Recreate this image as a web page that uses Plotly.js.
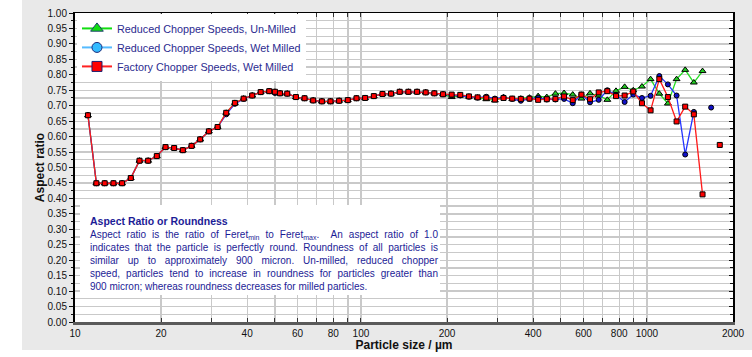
<!DOCTYPE html>
<html>
<head>
<meta charset="utf-8">
<script src="https://cdn.plot.ly/plotly-3.0.1.min.js"></script>
<style>
html,body{margin:0;padding:0;background:#fff;}
#chart{width:752px;height:357px;}
</style>
</head>
<body>
<div id="chart"></div>
<script>
// Particle size (µm)
const particleSize = [11.10, 11.88, 12.70, 13.63, 14.61, 15.67, 16.81, 18.02, 19.32, 20.73,
  22.22, 23.83, 25.56, 27.40, 29.39, 31.52, 33.79, 36.24, 38.88, 41.66,
  44.59, 47.78, 50.03, 52.09, 55.25, 59.23, 63.50, 68.08, 72.99, 78.25,
  83.89, 89.94, 96.46, 103.4, 110.9, 118.9, 127.4, 136.6, 146.5, 157.1,
  168.4, 180.6, 193.6, 207.6, 222.5, 238.6, 255.8, 274.3, 294.0, 315.2,
  338.0, 362.3, 388.4, 416.5, 446.5, 478.7, 513.2, 550.3, 590.1, 632.5,
  678.2, 727.1, 779.6, 835.7, 896.0, 960.9, 1030, 1105, 1184, 1270,
  1361, 1459, 1565, 1677, 1798];

// Factory Chopper Speeds, Wet Milled
const factoryWetMilled = [0.669, 0.449, 0.449, 0.449, 0.449, 0.466, 0.522, 0.522, 0.537, 0.566,
  0.563, 0.556, 0.570, 0.591, 0.617, 0.631, 0.677, 0.709, 0.723, 0.733,
  0.744, 0.747, 0.745, 0.740, 0.739, 0.728, 0.724, 0.717, 0.714, 0.714,
  0.716, 0.718, 0.724, 0.725, 0.731, 0.738, 0.739, 0.745, 0.745, 0.745,
  0.743, 0.740, 0.737, 0.736, 0.735, 0.730, 0.727, 0.726, 0.720, 0.725,
  0.723, 0.722, 0.723, 0.719, 0.721, 0.722, 0.730, 0.718, 0.736, 0.721,
  0.743, 0.747, 0.731, 0.733, 0.746, 0.708, 0.685, 0.786, 0.728, 0.649,
  0.697, 0.672, 0.413, null, 0.573];

// Reduced Chopper Speeds, Wet Milled
const reducedWetMilled = [0.669, 0.449, 0.449, 0.449, 0.449, 0.466, 0.522, 0.522, 0.537, 0.566,
  0.563, 0.556, 0.570, 0.591, 0.617, 0.631, 0.672, 0.706, 0.722, 0.733,
  0.744, 0.747, 0.741, 0.740, 0.739, 0.728, 0.724, 0.717, 0.714, 0.714,
  0.716, 0.718, 0.724, 0.725, 0.731, 0.738, 0.739, 0.745, 0.745, 0.745,
  0.743, 0.740, 0.737, 0.734, 0.733, 0.729, 0.726, 0.729, 0.723, 0.727,
  0.722, 0.716, 0.722, 0.726, 0.720, 0.720, 0.722, 0.708, 0.736, 0.711,
  0.719, 0.750, 0.735, 0.712, 0.736, 0.725, 0.732, 0.796, 0.769, 0.733,
  0.542, 0.680, null, 0.694, null];

// Reduced Chopper Speeds, Un-Milled
const reducedUnMilled = [0.669, 0.449, 0.449, 0.449, 0.449, 0.466, 0.522, 0.522, 0.537, 0.566,
  0.563, 0.556, 0.570, 0.591, 0.617, 0.631, 0.677, 0.709, 0.723, 0.733,
  0.744, 0.747, 0.745, 0.740, 0.739, 0.728, 0.724, 0.717, 0.714, 0.714,
  0.716, 0.718, 0.724, 0.725, 0.731, 0.738, 0.739, 0.745, 0.745, 0.745,
  0.743, 0.740, 0.737, 0.728, 0.733, 0.729, 0.726, 0.721, 0.717, 0.727,
  0.722, 0.723, 0.726, 0.731, 0.728, 0.739, 0.741, 0.736, 0.723, 0.740,
  0.733, 0.719, 0.748, 0.761, 0.750, 0.762, 0.786, 0.739, 0.707, 0.786,
  0.816, 0.775, 0.812, null, null];

const seriesNames = ['Reduced Chopper Speeds, Un-Milled', 'Reduced Chopper Speeds, Wet Milled', 'Factory Chopper Speeds, Wet Milled'];

// labelled x ticks and unlabelled (minor) x ticks / grid lines
const xTickVals = [10, 20, 40, 60, 80, 100, 200, 400, 600, 800, 1000, 2000];
const xTickText = ['10', '20', '40', '60', '80', '100', '200', '400', '600', '800', '1000', '2000'];
const xMinorVals = [30, 50, 70, 90, 300, 500, 700, 900];

const noteTitle = 'Aspect Ratio or Roundness';
const noteLines = [
  'Aspect ratio is the ratio of Feret<sub>min</sub> to Feret<sub>max</sub>.\u00a0 An aspect ratio of 1.0',
  'indicates that the particle is perfectly round. Roundness of all particles is',
  'similar up to approximately 900 micron. Un-milled, reduced chopper',
  'speed, particles tend to increase in roundness for particles greater than',
  '900 micron; whereas roundness decreases for milled particles.'
];

const FONT = 'Liberation Sans, Arial, Helvetica, sans-serif';
const GRID = '#c9c9c9';

const traces = [
  {x: particleSize, y: reducedUnMilled, name: seriesNames[0], type: 'scatter', mode: 'lines+markers', showlegend: false,
   line: {color: '#22dd22', width: 1.3}, marker: {symbol: 'triangle-up', size: 6, color: '#22cc22', line: {color: '#000', width: 1}}},
  {x: particleSize, y: reducedWetMilled, name: seriesNames[1], type: 'scatter', mode: 'lines+markers', showlegend: false,
   line: {color: '#2233ff', width: 1.3}, marker: {symbol: 'circle', size: 5, color: '#1010c8', line: {color: '#000', width: 1}}},
  {x: particleSize, y: factoryWetMilled, name: seriesNames[2], type: 'scatter', mode: 'lines+markers', showlegend: false,
   line: {color: '#ff1a1a', width: 1.3}, marker: {symbol: 'square', size: 5, color: '#ff0000', line: {color: '#000', width: 1}}},
  // legend entries
  {x: [null], y: [null], name: seriesNames[0], type: 'scatter', mode: 'lines+markers',
   line: {color: '#11dd11', width: 2}, marker: {symbol: 'triangle-up', size: 11, color: '#11dd11', line: {color: '#1d3d6d', width: 1}}},
  {x: [null], y: [null], name: seriesNames[1], type: 'scatter', mode: 'lines+markers',
   line: {color: '#55bbff', width: 2}, marker: {symbol: 'circle', size: 10, color: '#33bbff', line: {color: '#1d2d7d', width: 1}}},
  {x: [null], y: [null], name: seriesNames[2], type: 'scatter', mode: 'lines+markers',
   line: {color: '#ff2222', width: 2}, marker: {symbol: 'square', size: 10, color: '#ff0000', line: {color: '#1d1d6d', width: 1}}},
  // carrier for mirrored axes
  {x: [null], y: [null], xaxis: 'x2', yaxis: 'y2', type: 'scatter', mode: 'markers', showlegend: false, hoverinfo: 'skip'}
];

const xRange = [1, Math.log10(2000)];

const layout = {
  width: 752, height: 357,
  margin: {l: 75, r: 19, t: 13, b: 35, pad: 0},
  paper_bgcolor: '#e9e9e9',
  plot_bgcolor: '#ffffff',
  font: {family: FONT, size: 10, color: '#111'},
  showlegend: true,
  legend: {x: 0.003, y: 0.997, xanchor: 'left', yanchor: 'top', bgcolor: '#ffffff', borderwidth: 0,
    font: {family: FONT, size: 10.8, color: '#2b2b8f'}, tracegroupgap: 0, itemwidth: 30},
  xaxis: {type: 'log', range: xRange, tickmode: 'array', tickvals: xTickVals, ticktext: xTickText, tickangle: 0,
    ticks: 'inside', ticklen: 4, tickcolor: '#333', tickwidth: 1,
    minor: {tickmode: 'array', tickvals: xMinorVals, ticks: 'inside', ticklen: 4, tickcolor: '#333', showgrid: true, gridcolor: GRID, gridwidth: 1.3},
    showgrid: true, gridcolor: GRID, gridwidth: 1.3,
    showline: true, linecolor: '#5a5a5a', linewidth: 2.5, mirror: false, zeroline: false,
    tickfont: {family: FONT, size: 10, color: '#111'},
    title: {text: 'Particle size / µm', font: {family: FONT, size: 12, weight: 'bold', color: '#111'}, standoff: 0}},
  xaxis2: {type: 'log', range: xRange, overlaying: 'x', side: 'top', anchor: 'y2',
    tickmode: 'array', tickvals: xTickVals, showticklabels: false, ticks: 'inside', ticklen: 4, tickcolor: '#333',
    minor: {tickmode: 'array', tickvals: xMinorVals, ticks: 'inside', ticklen: 4, tickcolor: '#333', showgrid: false},
    showgrid: false, showline: true, linecolor: '#000', linewidth: 1.5, zeroline: false},
  yaxis: {range: [0, 1], tick0: 0, dtick: 0.05, tickformat: '.2f',
    ticks: 'outside', ticklen: 4, tickcolor: '#111', tickwidth: 1,
    minor: {dtick: 0.025, ticks: 'outside', ticklen: 2, tickcolor: '#111', showgrid: true, gridcolor: GRID, gridwidth: 1.3},
    showgrid: true, gridcolor: GRID, gridwidth: 1.3,
    showline: true, linecolor: '#000', linewidth: 2, mirror: false, zeroline: false,
    tickfont: {family: FONT, size: 10, color: '#111'},
    title: {text: 'Aspect ratio', font: {family: FONT, size: 12, weight: 'bold', color: '#111'}, standoff: 0}},
  yaxis2: {range: [0, 1], overlaying: 'y', side: 'right', anchor: 'x2', tick0: 0, dtick: 0.05,
    ticks: 'inside', ticklen: 4, tickcolor: '#111',
    minor: {dtick: 0.025, ticks: 'inside', ticklen: 3, tickcolor: '#111'},
    showticklabels: false, showgrid: false, showline: true, linecolor: '#000', linewidth: 1.5, zeroline: false},
  shapes: [
    {type: 'rect', xref: 'paper', yref: 'paper', x0: -0.12, x1: -0.0806, y0: -0.12, y1: 1.05, fillcolor: '#ffffff', line: {width: 0}, layer: 'below'},
    {type: 'rect', xref: 'paper', yref: 'paper', x0: -0.12, x1: 1.05, y0: -0.12, y1: -0.0906, fillcolor: '#ffffff', line: {width: 0}, layer: 'below'},
    {type: 'rect', xref: 'paper', yref: 'paper', x0: 0.0076, x1: 0.5547, y0: 0.0874, y1: 0.3786, fillcolor: '#ffffff', line: {width: 0}, layer: 'above'}
  ],
  annotations: [
    {xref: 'paper', yref: 'paper', x: 0.0213, y: 0.3495, xanchor: 'left', yanchor: 'top', showarrow: false,
     align: 'left', borderpad: 0,
     font: {family: FONT, size: 10, color: '#1c1c96'},
     text: '<span style="font-size:10.5px;font-weight:bold;">' + noteTitle + '</span><br>' + noteLines.join('<br>')}
  ]
};

Plotly.newPlot('chart', traces, layout, {staticPlot: true, displayModeBar: false}).then(function () {
  // justify the inner lines of the note like the original text block
  const target = 348;
  const txt = document.querySelector('.annotation-text');
  if (!txt) return;
  const lines = txt.querySelectorAll('tspan.line');
  for (let i = 1; i < lines.length - 1; i++) {
    const t = lines[i];
    const len = t.getComputedTextLength();
    const spaces = (t.textContent.match(/[ \u00a0]/g) || []).length;
    if (spaces > 0 && len < target) {
      t.style.wordSpacing = ((target - len) / spaces).toFixed(2) + 'px';
    }
  }
});
</script>
</body>
</html>
